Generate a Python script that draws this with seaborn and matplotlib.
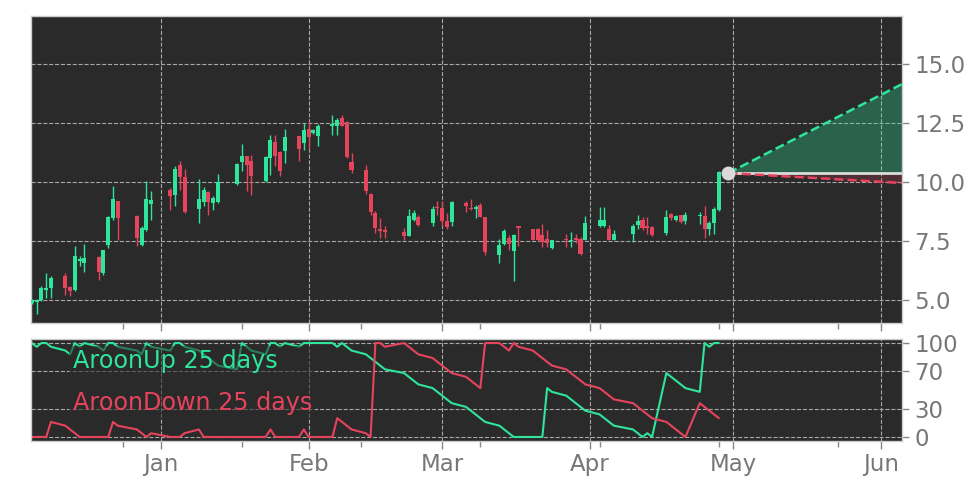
import numpy as np
import pandas as pd
import matplotlib
matplotlib.use("Agg")
import matplotlib.pyplot as plt
import matplotlib.dates as mdates
from matplotlib.ticker import FixedLocator
import seaborn as sns

### trading days (US market, Dec 2022 - Apr 2023)
holidays = ["2022-12-26", "2023-01-02", "2023-01-16", "2023-02-20", "2023-04-07"]
dates = pd.bdate_range("2022-12-05", "2023-04-28", freq="C", holidays=holidays)

### OHLC
opens = [4.88, 4.92, 5.00, 5.42, 5.50, 6.03, 5.55, 5.44, 6.64, 6.57,
         6.82, 6.14, 7.32, 8.47, 9.20, 8.57, 7.32, 7.98, 9.07,
         9.68, 9.43, 10.73, 10.21, 8.86, 9.15, 9.56, 9.11, 9.14, 9.93,
         10.84, 11.12, 10.90, 10.03, 11.01, 11.68, 11.26, 11.30, 11.93, 11.65,
         12.25, 12.08, 11.93, 12.36, 12.36, 12.71, 12.53, 10.83, 10.52, 9.50,
         8.69, 8.02, 7.95, 7.87, 7.73, 8.40, 8.52, 8.26, 8.92,
         8.90, 8.33, 8.29, 9.12, 8.90, 8.84, 9.03, 8.53, 6.93, 7.36,
         7.64, 7.07, 8.13, 8.03, 8.03, 7.74, 7.60, 7.21, 7.60, 7.51,
         7.64, 7.60, 7.56,
         8.13, 8.13, 8.03, 7.56, 7.79, 8.17, 8.41, 8.13, 8.10, 7.84,
         8.64, 8.39, 8.60, 8.36, 8.54, 8.56, 8.03, 8.27, 8.81]
highs = [5.03, 5.05, 5.60, 6.15, 6.00, 6.15, 5.60, 7.27, 6.85, 7.39,
         6.85, 7.13, 8.55, 9.84, 9.20, 8.62, 8.15, 10.03, 9.60,
         9.75, 10.66, 10.87, 10.55, 10.13, 9.80, 9.60, 9.39, 10.35, 10.80,
         11.60, 11.12, 11.16, 11.10, 12.00, 12.00, 11.30, 12.25, 11.96, 12.50,
         12.57, 12.25, 12.47, 12.85, 12.71, 12.85, 12.57, 11.24, 10.73, 9.53,
         8.76, 8.47, 8.15, 8.05, 8.85, 8.83, 8.62, 8.97, 9.18,
         9.18, 8.69, 9.18, 9.20, 9.30, 9.03, 9.13, 8.53, 7.60, 7.99,
         7.74, 7.81, 8.13, 8.03, 8.05, 8.24, 7.96, 7.56, 7.81, 7.89,
         7.81, 7.67, 8.56,
         8.96, 8.96, 8.17, 7.96, 8.21, 8.60, 8.53, 8.53, 8.13, 8.81,
         8.67, 8.60, 8.62, 8.74, 8.74, 8.98, 8.36, 8.96, 10.46]
lows = [4.85, 4.40, 4.98, 5.10, 5.10, 5.22, 5.18, 5.37, 6.45, 6.20,
        5.86, 6.07, 7.20, 8.40, 7.56, 7.27, 7.27, 7.91, 8.40,
        8.83, 8.97, 9.68, 8.69, 8.26, 9.00, 8.62, 8.83, 9.10, 9.86,
        10.46, 9.60, 9.46, 9.99, 10.30, 10.66, 10.27, 10.80, 10.88, 11.37,
        11.40, 12.05, 11.51, 12.00, 12.00, 12.36, 11.02, 10.38, 9.49, 8.62,
        7.84, 7.63, 7.63, 7.56, 7.70, 8.33, 8.15, 8.15, 8.62,
        8.12, 8.00, 8.12, 8.75, 8.80, 8.46, 8.53, 6.89, 6.57, 7.34,
        7.10, 5.81, 7.31, 7.53, 7.50, 7.24, 7.24, 7.17, 7.24, 7.24,
        7.40, 6.89, 7.53,
        8.10, 8.10, 7.53, 7.53, 7.46, 8.03, 7.96, 7.81, 7.70, 7.74,
        8.39, 8.36, 8.28, 8.21, 8.24, 7.64, 7.77, 7.81, 8.78]
closes = [5.00, 5.00, 5.50, 5.50, 5.93, 5.50, 5.37, 6.85, 6.74, 6.78,
          6.21, 7.13, 8.52, 9.29, 8.47, 7.63, 8.05, 9.29, 9.25,
          9.39, 10.55, 10.21, 8.73, 9.28, 9.68, 9.14, 9.32, 10.01, 10.78,
          11.10, 10.71, 10.24, 11.05, 11.77, 11.09, 10.45, 11.89, 11.40, 12.22,
          11.89, 12.22, 12.36, 12.47, 12.64, 12.36, 11.06, 10.52, 9.63, 8.73,
          8.05, 7.91, 7.88, 7.73, 8.57, 8.69, 8.19, 8.86, 8.88,
          8.33, 8.09, 9.14, 9.00, 8.87, 8.96, 8.53, 7.03, 7.34, 7.93,
          7.36, 7.74, 8.06, 7.56, 7.56, 7.46, 7.41, 7.53, 7.54, 7.56,
          7.53, 6.96, 8.27,
          8.41, 8.41, 7.56, 7.81, 8.13, 8.36, 8.06, 8.06, 7.74, 8.53,
          8.46, 8.57, 8.31, 8.60, 8.60, 8.03, 8.27, 8.84, 10.43]

### Aroon (25 days)
aroon_up = [100, 96, 100, 100, 96, 92, 88, 100, 96, 100, 96, 92, 100, 100, 96, 92, 88, 100, 96,
            92, 100, 100, 96, 92, 88, 84, 80, 76, 72, 100, 96, 92, 88, 100, 100, 96, 100, 96, 100,
            100, 100, 100, 100, 96, 100, 96, 92, 88, 84, 80, 76, 72, 68, 64, 60, 56, 52, 48,
            44, 40, 36, 32, 28, 24, 20, 16, 12, 8, 4, 0, 0, 0, 0, 0, 52, 48, 44, 40, 36, 32, 28,
            24, 20, 16, 12, 8, 4, 0, 4, 0, 68, 64, 60, 56, 52, 48, 100, 96, 100, 100]
aroon_down = [0, 0, 0, 0, 16, 12, 8, 4, 0, 0, 0, 0, 0, 16, 12, 8, 4, 0, 4,
              0, 0, 0, 4, 8, 0, 0, 0, 0, 0, 0, 0, 0, 0, 8, 0, 0, 0, 0, 8,
              0, 0, 0, 0, 20, 16, 12, 8, 4, 0, 100, 100, 96, 100, 96, 92, 88, 84, 80,
              76, 72, 68, 64, 60, 56, 52, 100, 100, 96, 92, 100, 96, 92, 88, 84, 80, 76, 72, 68, 64, 60, 56,
              52, 48, 44, 40, 36, 32, 28, 24, 20, 16, 12, 8, 4, 0, 36, 32, 28, 24, 20]

### projection cone
proj_dates = pd.to_datetime(["2023-04-30", "2023-06-06"])
proj_close = [10.38, 10.38]
proj_upper = [10.38, 14.21]
proj_lower = [10.38, 9.95]

green = "#2ee59b"
red = "#e6435d"
bg = "#2a2a2a"

sns.set_theme(style="darkgrid", rc={
    "axes.facecolor": bg,
    "figure.facecolor": "white",
    "grid.color": "#a8a8a8",
    "grid.linestyle": "--",
    "grid.linewidth": 0.8,
    "axes.edgecolor": "#cccccc",
    "axes.linewidth": 1.0,
    "xtick.color": "#777777",
    "ytick.color": "#777777",
})
plt.rcParams["font.family"] = ["DejaVu Sans"]

df = pd.DataFrame({"date": dates, "open": opens, "high": highs, "low": lows, "close": closes,
                   "AroonUp 25 days": aroon_up, "AroonDown 25 days": aroon_down})
df["color"] = np.where(df["close"] >= df["open"], green, red)
df["body"] = (df["close"] - df["open"]).abs().clip(lower=0.05)
df["bottom"] = df[["open", "close"]].min(axis=1)

fig = plt.figure(figsize=(9.72, 4.86), dpi=100)
ax1 = fig.add_axes([0.0319, 0.3354, 0.8961, 0.6317])
ax2 = fig.add_axes([0.0319, 0.0926, 0.8961, 0.2099], sharex=ax1)

### candles
ax1.vlines(df["date"], df["low"], df["high"], colors=df["color"], lw=1.0, zorder=3)
ax1.bar(df["date"], df["body"], bottom=df["bottom"], width=0.85, color=df["color"], lw=0, zorder=4)

### projection
ax1.fill_between(proj_dates, proj_close, proj_upper, color=green, alpha=0.3, lw=0, zorder=2)
ax1.fill_between(proj_dates, proj_lower, proj_close, color=red, alpha=0.2, lw=0, zorder=2)
ax1.plot(proj_dates, proj_close, color="#dcdcdc", lw=2, zorder=3)
ax1.plot(proj_dates, proj_upper, "--", color=green, lw=1.8, zorder=4)
ax1.plot(proj_dates, proj_lower, "--", color=red, lw=1.8, zorder=4)
ax1.plot(proj_dates[:1], proj_close[:1], "o", ms=9, color="#d9d9d9", zorder=6)

### aroon
sns.lineplot(data=df, x="date", y="AroonUp 25 days", color=green, lw=1.5, ax=ax2, label="AroonUp 25 days")
sns.lineplot(data=df, x="date", y="AroonDown 25 days", color=red, lw=1.5, ax=ax2, label="AroonDown 25 days")
leg = ax2.legend(loc="upper left", bbox_to_anchor=(0.03, 1.05), handlelength=0, handletextpad=0,
                 labelcolor="linecolor", fontsize=17.2, frameon=True, framealpha=0.55,
                 facecolor=bg, edgecolor="none", borderpad=0.15, labelspacing=0.72)
for h in leg.legend_handles:
    h.set_visible(False)

### axes
ax1.set_xlim(pd.Timestamp("2022-12-04 19:30"), pd.Timestamp("2023-06-05 09:30"))
ax1.set_ylim(4.03, 17.03)
ax2.set_ylim(-4.3, 104.3)
ax1.set_yticks([5, 7.5, 10, 12.5, 15])
ax1.set_yticklabels(["5.0", "7.5", "10.0", "12.5", "15.0"])
ax2.set_yticks([0, 30, 70, 100])
for ax in (ax1, ax2):
    ax.set_xlabel("")
    ax.set_ylabel("")
    ax.yaxis.tick_right()
    ax.xaxis.set_major_locator(mdates.MonthLocator())
    ax.xaxis.set_major_formatter(mdates.DateFormatter("%b"))
    minor = [dates[-1] + pd.Timedelta(days=25 * k) for k in range(-6, 2)]
    ax.xaxis.set_minor_locator(FixedLocator(mdates.date2num(minor)))
    ax.tick_params(axis="x", which="major", bottom=True, length=6, width=1, color="#888888")
    ax.tick_params(axis="x", which="minor", bottom=True, length=4, width=1, color="#888888")
    ax.tick_params(axis="y", right=True, left=False, length=5, width=1, color="#888888",
                   labelsize=16.5, pad=4)
    ax.grid(True, which="major", color="#a8a8a8", ls="--", lw=0.8)
    ax.grid(False, which="minor")
    for s in ax.spines.values():
        s.set_color("#cccccc")
ax1.tick_params(axis="x", labelbottom=False)
ax2.tick_params(axis="x", labelsize=16.5, pad=3)

fig.savefig("out.png", dpi=100)
